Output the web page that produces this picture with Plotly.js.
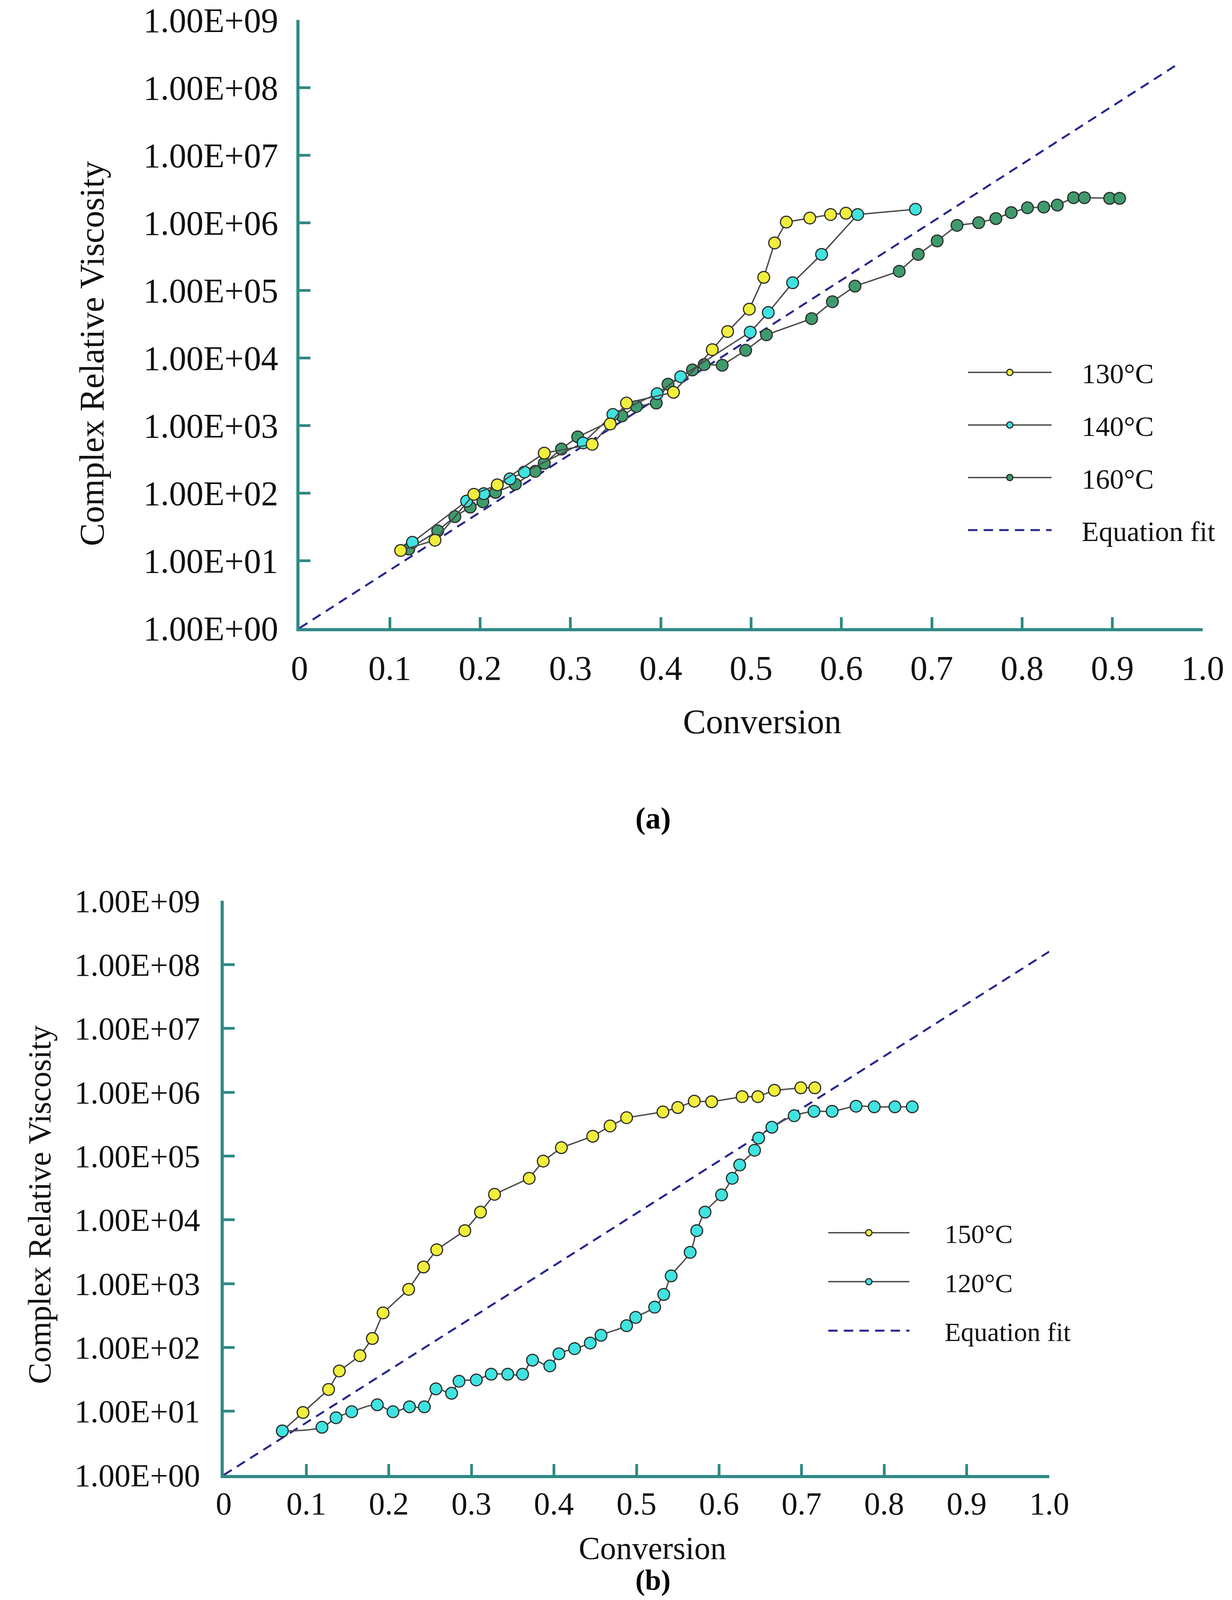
<!DOCTYPE html>
<html>
<head>
<meta charset="utf-8">
<script src="https://cdn.plot.ly/plotly-3.0.1.min.js"></script>
<style>
  html, body { margin: 0; padding: 0; background: #fff; overflow: hidden; }
  #chart { width: 3155px; height: 4203px; }
</style>
</head>
<body>
<div id="chart"></div>
<script>
// (a) top panel
let conv130 = [0.112, 0.150, 0.193, 0.219, 0.271, 0.324, 0.344, 0.362, 0.414, 0.457, 0.474, 0.498, 0.514, 0.526, 0.539, 0.565, 0.588, 0.605];
let visc130 = [14.1, 20.0, 95.5, 132, 389, 525, 1050, 2140, 3090, 13200, 24500, 52500, 155000, 501000, 1.02e6, 1.17e6, 1.32e6, 1.38e6];

let conv140 = [0.125, 0.185, 0.204, 0.233, 0.249, 0.314, 0.347, 0.396, 0.422, 0.499, 0.519, 0.546, 0.578, 0.618, 0.682];
let visc140 = [18.6, 75.9, 97.7, 162, 204, 550, 1450, 2950, 5250, 24000, 46800, 129000, 339000, 1.32e6, 1.58e6];

let conv160 = [0.121, 0.153, 0.172, 0.189, 0.203, 0.217, 0.239, 0.261, 0.271, 0.290, 0.308, 0.357, 0.373, 0.395, 0.408, 0.435, 0.448, 0.468, 0.494, 0.517, 0.567, 0.590, 0.615, 0.664, 0.685, 0.706, 0.728, 0.752, 0.771, 0.788, 0.806, 0.824, 0.839, 0.857, 0.869, 0.897, 0.908];
let visc160 = [14.8, 27.5, 44.7, 61.7, 74.1, 102, 135, 209, 275, 447, 676, 1380, 1910, 2140, 4070, 6610, 7940, 7760, 12900, 21900, 38000, 67600, 115000, 191000, 339000, 537000, 912000, 1.00e6, 1.15e6, 1.41e6, 1.66e6, 1.70e6, 1.82e6, 2.34e6, 2.34e6, 2.29e6, 2.29e6];

let fitConvA = [0, 0.972];
let fitViscA = [1, 2.2e8];

// (b) bottom panel
let conv150 = [0.071, 0.096, 0.127, 0.140, 0.165, 0.180, 0.193, 0.224, 0.242, 0.258, 0.292, 0.311, 0.328, 0.370, 0.387, 0.409, 0.447, 0.468, 0.488, 0.532, 0.550, 0.570, 0.591, 0.628, 0.647, 0.667, 0.699, 0.716];
let visc150 = [4.9, 9.55, 21.9, 42.7, 74.1, 138, 347, 813, 1820, 3390, 6760, 13200, 25100, 44700, 83200, 135000, 204000, 295000, 398000, 490000, 575000, 724000, 708000, 851000, 851000, 1.07e6, 1.17e6, 1.17e6];

let conv120 = [0.071, 0.119, 0.136, 0.155, 0.186, 0.205, 0.225, 0.243, 0.257, 0.276, 0.285, 0.306, 0.324, 0.344, 0.362, 0.374, 0.395, 0.406, 0.425, 0.444, 0.457, 0.488, 0.499, 0.522, 0.533, 0.542, 0.565, 0.573, 0.583, 0.603, 0.616, 0.625, 0.643, 0.648, 0.664, 0.691, 0.715, 0.737, 0.766, 0.788, 0.813, 0.834];
let visc120 = [4.9, 5.6, 7.9, 9.8, 12.6, 9.8, 11.7, 11.7, 22.4, 19.1, 29.5, 30.9, 38.0, 38.0, 38.0, 63.1, 51.3, 79.4, 95.5, 117, 155, 219, 295, 427, 676, 1320, 3090, 6760, 13200, 24500, 44700, 72400, 123000, 191000, 282000, 427000, 501000, 501000, 603000, 589000, 589000, 589000];

let fitConvB = [0, 1.0];
let fitViscB = [1, 1.6e8];

// ticks
let yTickVals = [1, 1e1, 1e2, 1e3, 1e4, 1e5, 1e6, 1e7, 1e8, 1e9];
let yTickText = ["1.00E+00", "1.00E+01", "1.00E+02", "1.00E+03", "1.00E+04", "1.00E+05", "1.00E+06", "1.00E+07", "1.00E+08", "1.00E+09"];
let xTickVals = [0, 0.1, 0.2, 0.3, 0.4, 0.5, 0.6, 0.7, 0.8, 0.9, 1.0];
let xTickText = ["0", "0.1", "0.2", "0.3", "0.4", "0.5", "0.6", "0.7", "0.8", "0.9", "1.0"];

const W = 3155, H = 4203;
const teal = "#2f8a85";
const serif = "Liberation Serif, Times New Roman, serif";
const yellow = "#f2ee3c", cyan = "#3fe3e0", green = "#3f9b6c", navy = "#26268f";

// non-breaking spaces open the gap between legend symbol and its text
function pad(n){ return "\u00a0".repeat(n); }

function series(x, y, name, color, xa, ya, leg, rank, gap, shape){
    return {
        x: x, y: y, name: pad(gap) + name, type: "scatter", mode: "lines+markers",
        xaxis: xa, yaxis: ya, legend: leg, legendrank: rank, legendgroup: leg + name,
        line: {color: "#4a4a4a", width: 3.5, shape: shape || "linear", smoothing: 1},
        marker: {color: color, size: 30, line: {color: "#2b2b2b", width: 3}}
    };
}

function fit(x, y, xa, ya, leg, gap){
    return {
        x: x, y: y, name: pad(gap) + "Equation fit", type: "scatter", mode: "lines",
        xaxis: xa, yaxis: ya, legend: leg, legendrank: 4, legendgroup: leg + "fit",
        line: {color: navy, width: 5, dash: "24px,16px"}
    };
}

let data = [
    fit(fitConvA, fitViscA, "x", "y", "legend", 4),
    series(conv160, visc160, "160°C", green, "x", "y", "legend", 3, 4),
    series(conv140, visc140, "140°C", cyan, "x", "y", "legend", 2, 4),
    series(conv130, visc130, "130°C", yellow, "x", "y", "legend", 1, 4),
    fit(fitConvB, fitViscB, "x2", "y2", "legend2", 5),
    series(conv150, visc150, "150°C", yellow, "x2", "y2", "legend2", 1, 5),
    series(conv120, visc120, "120°C", cyan, "x2", "y2", "legend2", 2, 5, "spline")
];

function xAxis(domain, anchor, size, standoff){
    return {
        domain: domain, anchor: anchor, range: [0, 1.0],
        tickvals: xTickVals, ticktext: xTickText,
        showline: true, linecolor: teal, linewidth: 8,
        ticks: "inside", ticklen: 28, tickwidth: 7, tickcolor: teal,
        ticklabelstandoff: standoff,
        showgrid: false, zeroline: false,
        tickfont: {family: serif, size: size, color: "#111"}
    };
}

function yAxis(domain, anchor, size, standoff){
    return {
        domain: domain, anchor: anchor, type: "log", range: [0, 9],
        tickvals: yTickVals, ticktext: yTickText,
        showline: true, linecolor: teal, linewidth: 8,
        ticks: "inside", ticklen: 28, tickwidth: 7, tickcolor: teal,
        ticklabelstandoff: standoff,
        showgrid: false, zeroline: false,
        tickfont: {family: serif, size: size, color: "#111"}
    };
}

function px(x){ return x / W; }
function py(y){ return 1 - y / H; }

let layout = {
    width: W, height: H,
    margin: {l: 0, r: 0, t: 0, b: 0},
    paper_bgcolor: "#fff", plot_bgcolor: "rgba(0,0,0,0)",
    showlegend: true,
    xaxis: xAxis([px(767), px(3080)], "y", 88, 18),
    yaxis: yAxis([py(1608), py(51)], "x", 88, 29),
    xaxis2: xAxis([px(573), px(2687)], "y2", 82, -5),
    yaxis2: yAxis([py(3776), py(2306)], "x2", 82, 36),
    legend: {
        x: px(2474), y: py(900), xanchor: "left", yanchor: "top",
        bgcolor: "rgba(0,0,0,0)", traceorder: "grouped", tracegroupgap: 38,
        itemwidth: 214, itemsizing: "trace",
        font: {family: serif, size: 72, color: "#111"}
    },
    legend2: {
        x: px(2116), y: py(3105), xanchor: "left", yanchor: "top",
        bgcolor: "rgba(0,0,0,0)", traceorder: "grouped", tracegroupgap: 34,
        itemwidth: 208, itemsizing: "trace",
        font: {family: serif, size: 68, color: "#111"}
    },
    annotations: [
        {text: "Complex Relative Viscosity", textangle: -90, xref: "paper", yref: "paper",
         x: px(235), y: py(906), xanchor: "center", yanchor: "middle", showarrow: false,
         font: {family: serif, size: 88, color: "#111"}},
        {text: "Conversion", xref: "paper", yref: "paper",
         x: px(1952), y: py(1847), xanchor: "center", yanchor: "middle", showarrow: false,
         font: {family: serif, size: 88, color: "#111"}},
        {text: "<b>(a)</b>", xref: "paper", yref: "paper",
         x: px(1672), y: py(2094), xanchor: "center", yanchor: "middle", showarrow: false,
         font: {family: serif, size: 78, color: "#000"}},
        {text: "Complex Relative Viscosity", textangle: -90, xref: "paper", yref: "paper",
         x: px(101), y: py(3084), xanchor: "center", yanchor: "middle", showarrow: false,
         font: {family: serif, size: 82, color: "#111"}},
        {text: "Conversion", xref: "paper", yref: "paper",
         x: px(1671), y: py(3963), xanchor: "center", yanchor: "middle", showarrow: false,
         font: {family: serif, size: 82, color: "#111"}},
        {text: "<b>(b)</b>", xref: "paper", yref: "paper",
         x: px(1672), y: py(4045), xanchor: "center", yanchor: "middle", showarrow: false,
         font: {family: serif, size: 74, color: "#000"}}
    ]
};

Plotly.newPlot("chart", data, layout, {staticPlot: true});
</script>
</body>
</html>
